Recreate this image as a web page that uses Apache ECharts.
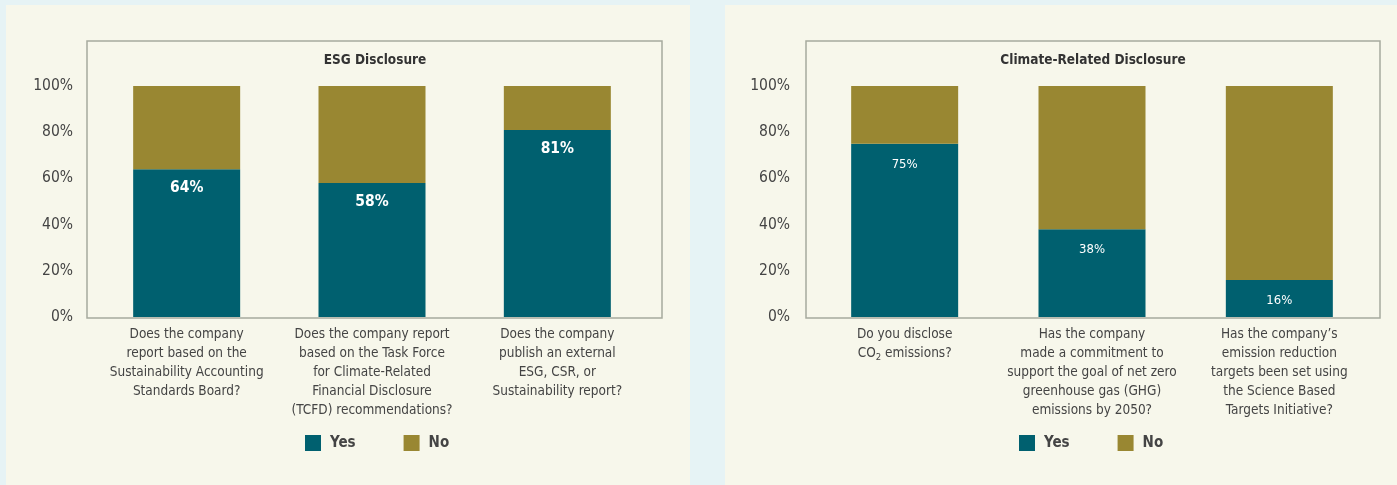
<!DOCTYPE html>
<html>
<head>
<meta charset="utf-8">
<script src="https://cdn.jsdelivr.net/npm/echarts@6/dist/echarts.min.js"></script>
<style>
html,body{margin:0;padding:0;background:#e6f3f5;}
#chart{width:1397px;height:485px;}
</style>
</head>
<body>
<div id="chart"></div>
<script>
// ---- data ----
const titleESG = 'ESG Disclosure';
const categoriesESG = [
  'Does the company\nreport based on the\nSustainability Accounting\nStandards Board?',
  'Does the company report\nbased on the Task Force\nfor Climate-Related\nFinancial Disclosure\n(TCFD) recommendations?',
  'Does the company\npublish an external\nESG, CSR, or\nSustainability report?'
];
const yesESG = [64, 58, 81];
const noESG = [36, 42, 19];

const titleClimate = 'Climate-Related Disclosure';
const categoriesClimate = [
  'Do you disclose\nCO{sub|2} emissions?',
  'Has the company\nmade a commitment to\nsupport the goal of net zero\ngreenhouse gas (GHG)\nemissions by 2050?',
  'Has the company\u2019s\nemission reduction\ntargets been set using\nthe Science Based\nTargets Initiative?'
];
const yesClimate = [75, 38, 16];
const noClimate = [25, 62, 84];

const seriesNames = ['Yes', 'No'];
const yAxisMin = 0, yAxisMax = 100, yAxisStep = 20;

// ---- style ----
const FONT = '"Liberation Sans Narrow", "DejaVu Sans Condensed", "Noto Sans", sans-serif';
const TEAL = '#00606f';
const GOLD = '#998732';
const TEXT = '#444444';
const PANEL = '#f7f7eb';
const FRAME = '#a7aa9e';

const chart = echarts.init(document.getElementById('chart'));

function xAxis(gridIndex, cats) {
  return {
    type: 'category', gridIndex, data: cats,
    axisLine: {show: false}, axisTick: {show: false},
    axisLabel: {
      interval: 0, margin: 8, color: TEXT, fontFamily: FONT, fontSize: 13.5, lineHeight: 19,
      rich: {sub: {fontSize: 9.5, fontFamily: FONT, color: TEXT, verticalAlign: 'bottom', lineHeight: 14}}
    }
  };
}
function yAxis(gridIndex) {
  return {
    type: 'value', gridIndex, min: yAxisMin, max: yAxisMax, interval: yAxisStep,
    axisLine: {show: false}, axisTick: {show: false}, splitLine: {show: false},
    axisLabel: {formatter: '{value}%', color: TEXT, fontFamily: FONT, fontSize: 15.5, margin: 21}
  };
}
function bar(name, idx, data, color, labelOn, bold, fs, dist) {
  return {
    name, type: 'bar', stack: 's' + idx, xAxisIndex: idx, yAxisIndex: idx,
    data, barWidth: 107, itemStyle: {color},
    label: labelOn ? {show: true, position: 'insideTop', distance: dist, formatter: '{c}%',
      color: '#ffffff', fontFamily: FONT, fontSize: fs, fontWeight: bold ? 'bold' : 'normal'} : {show: false}
  };
}
function legend(left) {
  return {
    data: seriesNames, left, top: 435, padding: 0, icon: 'rect', itemWidth: 16, itemHeight: 16, itemGap: 48,
    textStyle: {color: TEXT, fontFamily: FONT, fontSize: 15, fontWeight: 'bold', padding: [0, 0, 0, 4]},
    selectedMode: false
  };
}

chart.setOption({
  backgroundColor: '#e6f3f5',
  animation: false,
  graphic: [
    {type: 'rect', z: -10, shape: {x: 6, y: 5, width: 684, height: 485}, style: {fill: PANEL}},
    {type: 'rect', z: -10, shape: {x: 725, y: 5, width: 672, height: 485}, style: {fill: PANEL}},
    {type: 'rect', z: 10, shape: {x: 87, y: 41, width: 575, height: 277}, style: {fill: null, stroke: FRAME, lineWidth: 1.5}},
    {type: 'rect', z: 10, shape: {x: 806, y: 41, width: 574, height: 277}, style: {fill: null, stroke: FRAME, lineWidth: 1.5}}
  ],
  title: [
    {text: titleESG, left: 375, top: 53, padding: 0, textAlign: 'center',
      textStyle: {fontFamily: FONT, fontSize: 13.5, fontWeight: 'bold', color: '#333'}},
    {text: titleClimate, left: 1093, top: 53, padding: 0, textAlign: 'center',
      textStyle: {fontFamily: FONT, fontSize: 13.5, fontWeight: 'bold', color: '#333'}}
  ],
  legend: [legend(305), legend(1019)],
  grid: [
    {left: 94, top: 86, width: 556, height: 231},
    {left: 811, top: 86, width: 562, height: 231}
  ],
  xAxis: [xAxis(0, categoriesESG), xAxis(1, categoriesClimate)],
  yAxis: [yAxis(0), yAxis(1)],
  series: [
    bar(seriesNames[0], 0, yesESG, TEAL, true, true, 15.5, 11),
    bar(seriesNames[1], 0, noESG, GOLD, false),
    bar(seriesNames[0], 1, yesClimate, TEAL, true, false, 13, 14),
    bar(seriesNames[1], 1, noClimate, GOLD, false)
  ]
});
</script>
</body>
</html>
